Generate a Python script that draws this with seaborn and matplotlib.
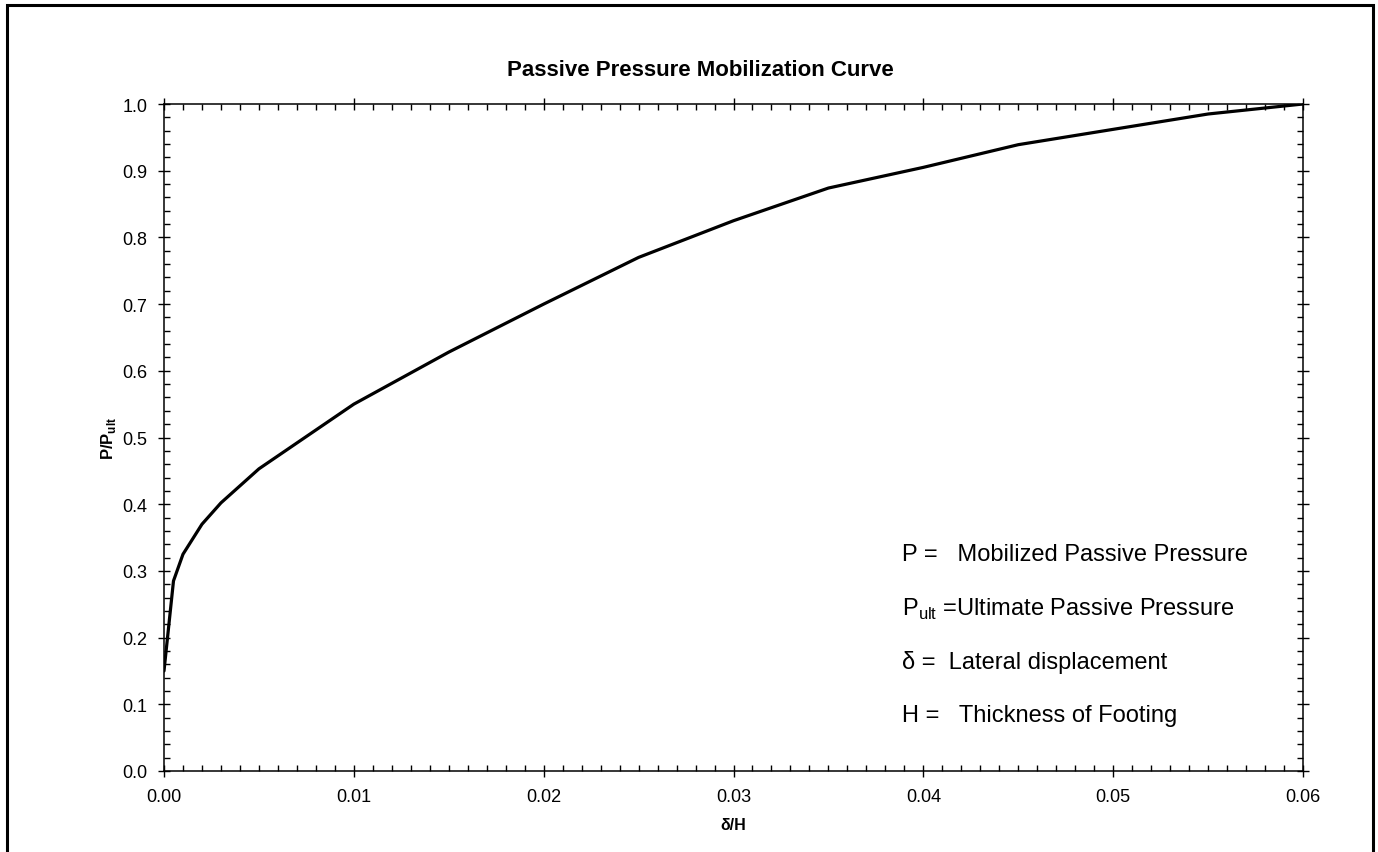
import pandas as pd
import matplotlib.pyplot as plt
import seaborn as sns
from matplotlib.ticker import MultipleLocator, FormatStrFormatter
from matplotlib.patches import Rectangle

# data
disp = [0.0, 0.0005, 0.001, 0.002, 0.003, 0.005, 0.01, 0.015, 0.02, 0.025,
        0.03, 0.035, 0.04, 0.045, 0.05, 0.055, 0.06]
ratio = [0.15, 0.285, 0.325, 0.37, 0.402, 0.453, 0.55, 0.628, 0.70, 0.77,
         0.825, 0.874, 0.905, 0.939, 0.962, 0.985, 1.0]

notes = ["P =   Mobilized Passive Pressure",
         r"P$_{\mathrm{ult}}$ =Ultimate Passive Pressure",
         "\u03b4 =  Lateral displacement",
         "H =   Thickness of Footing"]

df = pd.DataFrame({"disp": disp, "ratio": ratio})

sns.set_style("ticks")
plt.rcParams["font.family"] = ["Liberation Sans", "DejaVu Sans"]
plt.rcParams["mathtext.fontset"] = "custom"
plt.rcParams["mathtext.rm"] = "Liberation Sans"
plt.rcParams["mathtext.bf"] = "Liberation Sans:bold"
plt.rcParams["text.color"] = "black"
plt.rcParams["axes.labelcolor"] = "black"

fig = plt.figure(figsize=(13.78, 8.53), dpi=100)
ax = fig.add_axes([164 / 1378, 1 - 772 / 853, (1303 - 164) / 1378, (772 - 105) / 853])

sns.lineplot(data=df, x="disp", y="ratio", ax=ax, color="black", linewidth=2.3)

ax.set_xlim(0, 0.06)
ax.set_ylim(0, 1.0)
ax.xaxis.set_major_locator(MultipleLocator(0.01))
ax.xaxis.set_minor_locator(MultipleLocator(0.001))
ax.yaxis.set_major_locator(MultipleLocator(0.1))
ax.yaxis.set_minor_locator(MultipleLocator(0.02))
ax.xaxis.set_major_formatter(FormatStrFormatter("%.2f"))
ax.yaxis.set_major_formatter(FormatStrFormatter("%.1f"))

for s in ax.spines.values():
    s.set_visible(True)
    s.set_linewidth(1.1)
    s.set_color("black")
ax.tick_params(which="major", direction="inout", length=8, width=1, colors="black",
               top=True, right=True, labelsize=13, pad=8)
ax.tick_params(which="minor", direction="in", length=4, width=1, colors="black",
               top=True, right=True)

ax.set_xlabel("\u03b4/H", fontsize=11.5, fontweight="bold", labelpad=9)
ax.set_ylabel(r"P/P$_{\mathbf{ult}}$", fontsize=12, fontweight="bold", labelpad=3)

fig.text(700 / 1378, 1 - 70 / 853, "Passive Pressure Mobilization Curve",
         ha="center", va="center", fontsize=16, fontweight="bold")

for i, t in enumerate(notes):
    ax.text(0.0389, 0.325 - i * 0.0805, t, fontsize=17, va="center", ha="left")

# outer frame (bottom edge off the page)
fig.patches.append(Rectangle((7 / 1378, -0.05), (1373 - 7) / 1378, 1 - 6 / 853 + 0.05,
                             transform=fig.transFigure, fill=False,
                             edgecolor="black", linewidth=2.2))

fig.savefig("out.png", dpi=100)
